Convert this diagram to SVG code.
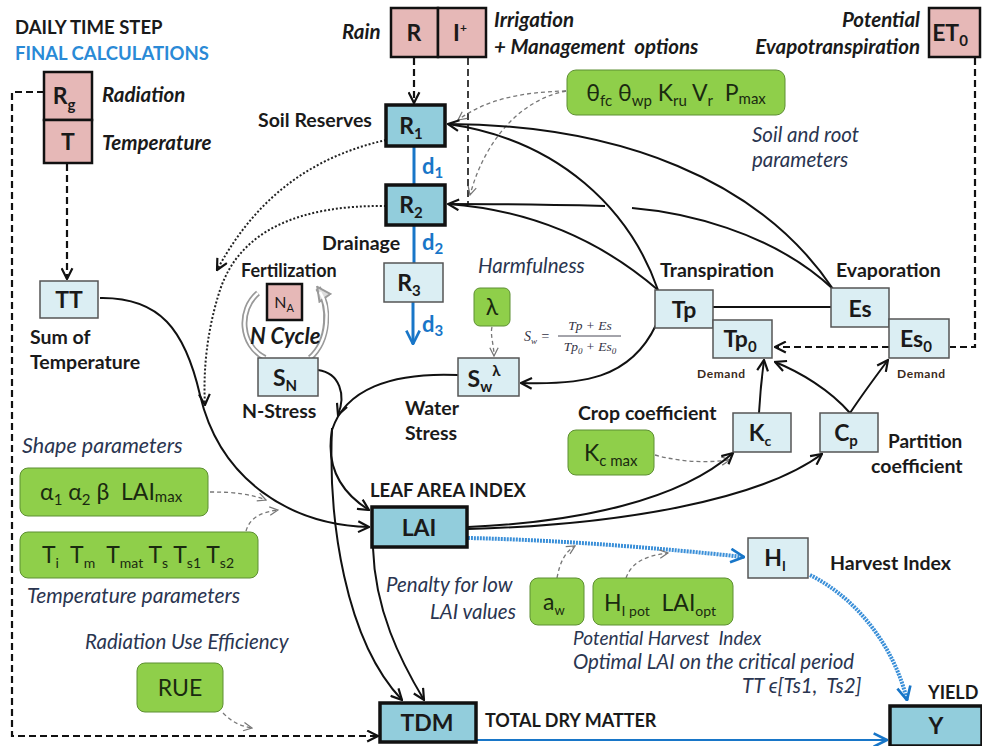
<svg xmlns="http://www.w3.org/2000/svg" width="982" height="746" viewBox="0 0 982 746">
<defs>
<style>
text{font-family:Lato,"Open Sans","Liberation Sans",sans-serif;fill:#1a1a1a;white-space:pre}
.b{font-weight:bold}
.it{font-style:italic;font-weight:bold}
.pi{font-style:italic;fill:#2a3550}
.nl{font-weight:bold;font-size:23px;text-anchor:middle}
.gl{font-size:23px;fill:#1a2a10}
.blue{fill:#1876c8;font-weight:bold}
.pink{fill:#e6b8b7;stroke:#111;stroke-width:2.5}
.dark{fill:#92cddc;stroke:#111;stroke-width:3.5}
.light{fill:#dbeef3;stroke:#555;stroke-width:1.5}
.green{fill:#8fcf4a;stroke:#5d8f32;stroke-width:1}
.c{fill:none;stroke:#111;stroke-width:2}
.dash{fill:none;stroke:#111;stroke-width:2.2;stroke-dasharray:7 4}
.dot{fill:none;stroke:#222;stroke-width:2;stroke-dasharray:2 2}
.gd{fill:none;stroke:#777;stroke-width:1.3;stroke-dasharray:4 3}
.bl{fill:none;stroke:#1876c8;stroke-width:3}
.blh{fill:none;stroke:#3a8fd8;stroke-width:4;stroke-dasharray:2 1}
.ncy{fill:none;stroke:#999;stroke-width:6}
.ncw{fill:none;stroke:#fff;stroke-width:2.5}
.fm{font-family:"Liberation Serif",serif;font-style:italic;fill:#334}
.dm{font-weight:bold;font-size:12px;letter-spacing:0.6px;fill:#3a2a1a}
</style>
<marker id="ah" viewBox="0 0 12 12" refX="11" refY="6" markerWidth="13" markerHeight="13" markerUnits="userSpaceOnUse" orient="auto"><path d="M1,1 L11,6 L1,11" fill="none" stroke="#111" stroke-width="2"/></marker>
<marker id="ab" viewBox="0 0 12 12" refX="11" refY="6" markerWidth="16" markerHeight="16" markerUnits="userSpaceOnUse" orient="auto"><path d="M1,1 L11,6 L1,11" fill="none" stroke="#1876c8" stroke-width="2"/></marker>
<marker id="ag" viewBox="0 0 12 12" refX="11" refY="6" markerWidth="10" markerHeight="10" markerUnits="userSpaceOnUse" orient="auto"><path d="M1,1 L11,6 L1,11" fill="none" stroke="#777" stroke-width="1.5"/></marker>
<marker id="agr" viewBox="0 0 12 12" refX="10" refY="6" markerWidth="16" markerHeight="16" markerUnits="userSpaceOnUse" orient="auto"><path d="M1,1 L11,6 L1,11 Z" fill="#ddd" stroke="#999" stroke-width="1.5"/></marker>
</defs>
<rect width="982" height="746" fill="#fff"/>

<text x="15" y="34" class="b" font-size="18.5">DAILY TIME STEP</text>
<text x="15" y="60" class="b" font-size="18.5" style="fill:#2a8ad6">FINAL CALCULATIONS</text>

<g id="connectors">
<path class="bl" d="M414,147 V185"/>
<path class="bl" d="M414,226 V263"/>
<path class="bl" d="M413,302 V344" marker-end="url(#ab)"/>
<path class="dash" d="M44,92 H12 V736 H378" marker-end="url(#ah)"/>
<path class="dash" d="M67,164 V279" marker-end="url(#ah)"/>
<path class="dash" d="M414,58 V103" marker-end="url(#ah)"/>
<path class="dash" d="M468,58 V204" style="stroke-width:1.6"/>
<path class="dash" d="M975,58 V347 H950"/>
<path class="dash" d="M889,347 H775" marker-end="url(#ah)"/>
<path class="gd" d="M566,91 C520,92 485,100 458,120" marker-end="url(#ag)"/>
<path class="gd" d="M566,91 C520,100 485,140 470,195" marker-end="url(#ag)"/>
<path class="c" d="M658,290 C630,210 560,140 448,124" marker-end="url(#ah)"/>
<path class="c" d="M658,290 C600,240 530,210 448,204" marker-end="url(#ah)"/>
<path class="c" d="M833,289 C760,180 620,125 448,124"/>
<path class="c" d="M833,289 C770,230 680,212 632,208"/>
<path class="c" d="M605,206 C560,205 500,204 448,204"/>
<path class="c" d="M713,307 H831"/>
<path class="c" d="M656,325 C630,380 580,385 521,383" marker-end="url(#ah)"/>
<path class="c" d="M759,413 C760,395 762,375 764,360" marker-end="url(#ah)"/>
<path class="c" d="M850,413 C830,390 800,372 775,362" marker-end="url(#ah)"/>
<path class="c" d="M850,413 C862,395 876,376 888,360" marker-end="url(#ah)"/>
<path class="gd" d="M655,455 C680,462 705,463 730,460" marker-end="url(#ag)"/>
<path class="c" d="M468,527 C580,522 680,500 733,453" marker-end="url(#ah)"/>
<path class="c" d="M468,529 C620,525 760,500 822,454" marker-end="url(#ah)"/>
<path class="blh" d="M468,538 C560,540 660,548 744,557" marker-end="url(#ab)"/>
<path class="gd" d="M557,578 C560,562 565,552 575,546" marker-end="url(#ag)"/>
<path class="gd" d="M626,578 C632,562 645,556 668,553" marker-end="url(#ag)"/>
<path class="blh" d="M810,575 C860,600 895,650 907,700" marker-end="url(#ab)"/>
<path class="bl" d="M477,740 H887" style="stroke-width:2" marker-end="url(#ab)"/>
<path class="gd" d="M492,327 C490,335 494,345 494,356" marker-end="url(#ag)"/>
<path class="dot" d="M386,140 C320,155 260,190 217,270" marker-end="url(#ah)"/>
<path class="dot" d="M386,206 C300,205 240,230 220,290 C207,330 203,370 205,405" marker-end="url(#ah)"/>
<path class="c" d="M100,298 C160,297 185,330 200,395 C220,480 290,525 369,527" marker-end="url(#ah)"/>
<path class="c" d="M458,375 C390,372 345,390 332,430 C325,470 345,495 369,510" marker-end="url(#ah)"/>
<path class="c" d="M318,370 C340,373 346,395 338,415" marker-end="url(#ah)"/>
<path class="c" d="M332,428 C328,520 345,640 402,700" marker-end="url(#ah)"/>
<path class="c" d="M373,548 C375,610 400,660 424,700" marker-end="url(#ah)"/>
<path class="gd" d="M210,492 C235,492 250,494 266,500" marker-end="url(#ag)"/>
<path class="gd" d="M246,531 C250,517 262,512 278,510" marker-end="url(#ag)"/>
<path class="gd" d="M223,713 C232,722 240,726 252,728" marker-end="url(#ag)"/>
<path class="ncy" d="M258,293 C238,310 240,345 265,358"/>
<path class="ncw" d="M258,293 C238,310 240,345 265,358"/>
<path class="ncy" d="M310,358 C330,340 330,305 318,288" marker-end="url(#agr)"/>
<path class="ncw" d="M310,358 C330,340 330,307 320,292"/>
</g>

<g id="RgT">
<rect x="44" y="72" width="48" height="48" class="pink"/>
<rect x="44" y="120" width="48" height="43" class="pink"/>
<text x="64" y="104" class="nl">R<tspan font-size="15" dy="6">g</tspan></text>
<text x="68" y="150" class="nl">T</text>
<text x="102" y="102" class="it" font-size="20.5">Radiation</text>
<text x="102" y="150" class="it" font-size="20.5">Temperature</text>
</g>

<g id="RI">
<rect x="391" y="8" width="47" height="49" class="pink"/>
<rect x="438" y="8" width="48" height="49" class="pink"/>
<text x="414" y="41" class="nl">R</text>
<text x="460" y="41" class="nl">I<tspan font-size="12" dy="-9">+</tspan></text>
<text x="342" y="39" class="it" font-size="20.5">Rain</text>
<text x="494" y="27" class="it" font-size="20.5">Irrigation</text>
<text x="494" y="54" class="it" font-size="20.5">+ Management  options</text>
</g>

<g id="ET0">
<rect x="929" y="8" width="51" height="49" class="pink"/>
<text x="950" y="41" class="nl">ET<tspan font-size="15" dy="5">0</tspan></text>
<text x="920" y="27" class="it" font-size="20.5" text-anchor="end">Potential</text>
<text x="920" y="54" class="it" font-size="20.5" text-anchor="end">Evapotranspiration</text>
</g>

<g id="R1">
<rect x="386" y="105" width="59" height="41" class="dark"/>
<text x="411" y="134" class="nl">R<tspan font-size="15" dy="5">1</tspan></text>
<text x="258" y="127" class="b" font-size="19.5">Soil Reserves</text>
</g>
<text x="422" y="174" class="blue" font-size="22">d<tspan font-size="15" dy="4">1</tspan></text>
<g id="R2">
<rect x="386" y="185" width="59" height="40" class="dark"/>
<text x="411" y="213" class="nl">R<tspan font-size="15" dy="5">2</tspan></text>
</g>
<text x="322" y="250" class="b" font-size="19.5">Drainage</text>
<text x="422" y="250" class="blue" font-size="22">d<tspan font-size="15" dy="4">2</tspan></text>
<g id="R3">
<rect x="384" y="263" width="59" height="39" class="light"/>
<text x="409" y="291" class="nl">R<tspan font-size="15" dy="5">3</tspan></text>
</g>
<text x="422" y="332" class="blue" font-size="22">d<tspan font-size="15" dy="4">3</tspan></text>

<g id="soilparams">
<rect x="567" y="70" width="218" height="45" rx="9" class="green"/>
<text x="676" y="101" class="gl" text-anchor="middle">θ<tspan font-size="15" dy="5">fc</tspan><tspan dy="-5"> θ</tspan><tspan font-size="15" dy="5">wp</tspan><tspan dy="-5"> K</tspan><tspan font-size="15" dy="5">ru</tspan><tspan dy="-5"> V</tspan><tspan font-size="15" dy="5">r</tspan><tspan dy="-5">  P</tspan><tspan font-size="15" dy="3">max</tspan></text>
<text x="752" y="142" class="pi" font-size="20.5">Soil and root</text>
<text x="752" y="167" class="pi" font-size="20.5">parameters</text>
</g>

<g id="TT">
<rect x="40" y="281" width="58" height="37" class="light"/>
<text x="69" y="308" class="nl">TT</text>
<text x="30" y="344" class="b" font-size="19.5">Sum of</text>
<text x="30" y="369" class="b" font-size="19.5">Temperature</text>
</g>

<g id="NA">
<text x="241" y="277" class="b" font-size="18">Fertilization</text>
<rect x="267" y="284" width="35" height="36" class="pink"/>
<text x="284" y="308" font-size="16" text-anchor="middle">N<tspan font-size="11" dy="4">A</tspan></text>
<text x="250" y="344" class="it" font-size="22">N Cycle</text>
</g>
<g id="SN">
<rect x="258" y="358" width="60" height="38" class="light"/>
<text x="285" y="386" class="nl">S<tspan font-size="15" dy="5">N</tspan></text>
<text x="242" y="418" class="b" font-size="19.5">N-Stress</text>
</g>

<g id="lambda">
<text x="478" y="273" class="pi" font-size="20.5">Harmfulness</text>
<rect x="474" y="288" width="36" height="38" rx="6" class="green"/>
<text x="492" y="315" class="gl" font-size="22" text-anchor="middle">λ</text>
</g>
<g id="formula">
<text x="524" y="341" class="fm" font-size="14">S<tspan font-size="9" dy="3">w</tspan><tspan dy="-3"> =</tspan></text>
<text x="590" y="330" class="fm" font-size="13.5" text-anchor="middle">Tp + Es</text>
<line x1="558" y1="336" x2="621" y2="336" stroke="#334" stroke-width="0.9"/>
<text x="590" y="351" class="fm" font-size="13.5" text-anchor="middle">Tp<tspan font-size="9" dy="3">0</tspan><tspan dy="-3"> + Es</tspan><tspan font-size="9" dy="3">0</tspan></text>
</g>
<g id="Sw">
<rect x="458" y="358" width="61" height="38" class="light"/>
<text x="484" y="387" class="nl">S<tspan font-size="15" dy="5">w</tspan><tspan font-size="15" dy="-16">λ</tspan></text>
<text x="405" y="415" class="b" font-size="19.5">Water</text>
<text x="405" y="440" class="b" font-size="19.5">Stress</text>
</g>

<g id="Tp">
<text x="660" y="277" class="b" font-size="19.5">Transpiration</text>
<rect x="655" y="290" width="58" height="38" class="light"/>
<text x="684" y="318" class="nl">Tp</text>
</g>
<g id="Tp0">
<rect x="713" y="320" width="59" height="38" class="light"/>
<text x="740" y="347" class="nl">Tp<tspan font-size="15" dy="5">0</tspan></text>
<text x="697" y="378" class="dm">Demand</text>
</g>
<g id="Es">
<text x="836" y="277" class="b" font-size="19.5">Evaporation</text>
<rect x="831" y="288" width="58" height="39" class="light"/>
<text x="860" y="317" class="nl">Es</text>
</g>
<g id="Es0">
<rect x="889" y="319" width="60" height="39" class="light"/>
<text x="916" y="347" class="nl">Es<tspan font-size="15" dy="5">0</tspan></text>
<text x="897" y="378" class="dm">Demand</text>
</g>

<g id="Kcmax">
<text x="578" y="420" class="b" font-size="19.5">Crop coefficient</text>
<rect x="568" y="430" width="86" height="45" rx="8" class="green"/>
<text x="584" y="461" class="gl">K<tspan font-size="15" dy="5">c max</tspan></text>
</g>
<g id="Kc">
<rect x="733" y="413" width="58" height="39" class="light"/>
<text x="760" y="441" class="nl">K<tspan font-size="14" dy="5">c</tspan></text>
</g>
<g id="Cp">
<rect x="820" y="413" width="58" height="39" class="light"/>
<text x="846" y="441" class="nl">C<tspan font-size="15" dy="5">p</tspan></text>
<text x="888" y="448" class="b" font-size="19">Partition</text>
<text x="871" y="473" class="b" font-size="19.5">coefficient</text>
</g>

<g id="shape">
<text x="22" y="453" class="pi" font-size="21.5">Shape parameters</text>
<rect x="20" y="468" width="188" height="48" rx="8" class="green"/>
<text x="40" y="500" class="gl">α<tspan font-size="15" dy="5">1</tspan><tspan dy="-5"> α</tspan><tspan font-size="15" dy="5">2</tspan><tspan dy="-5"> β  LAI</tspan><tspan font-size="15" dy="2">max</tspan></text>
</g>
<g id="tparams">
<rect x="20" y="532" width="238" height="46" rx="8" class="green"/>
<text x="42" y="563" class="gl">T<tspan font-size="14" dy="5">i</tspan><tspan dy="-5">  T</tspan><tspan font-size="14" dy="5">m</tspan><tspan dy="-5">  T</tspan><tspan font-size="14" dy="5">mat</tspan><tspan dy="-5"> T</tspan><tspan font-size="14" dy="5">s</tspan><tspan dy="-5"> T</tspan><tspan font-size="14" dy="5">s1</tspan><tspan dy="-5"> T</tspan><tspan font-size="14" dy="5">s2</tspan></text>
<text x="27" y="603" class="pi" font-size="21">Temperature parameters</text>
</g>

<g id="LAI">
<text x="370" y="497" class="b" font-size="18.5">LEAF AREA INDEX</text>
<rect x="372" y="507" width="95" height="40" class="dark"/>
<text x="419" y="536" class="nl">LAI</text>
<text x="386" y="592" class="pi" font-size="20.5">Penalty for low</text>
<text x="430" y="619" class="pi" font-size="20.5">LAI values</text>
</g>
<g id="aw">
<rect x="530" y="578" width="54" height="47" rx="8" class="green"/>
<text x="543" y="610" class="gl">a<tspan font-size="13" dy="5">w</tspan></text>
</g>
<g id="HIpot">
<rect x="593" y="578" width="140" height="47" rx="8" class="green"/>
<text x="604" y="611" class="gl">H<tspan font-size="14" dy="5">I pot</tspan><tspan dy="-5">  LAI</tspan><tspan font-size="14" dy="5">opt</tspan></text>
<text x="573" y="645" class="pi" font-size="19">Potential Harvest  Index</text>
<text x="573" y="669" class="pi" font-size="20.5">Optimal LAI on the critical period</text>
<text x="742" y="693" class="pi" font-size="20.5">TT ϵ[Ts1,  Ts2]</text>
</g>
<g id="HI">
<rect x="748" y="538" width="60" height="40" class="light"/>
<text x="775" y="566" class="nl">H<tspan font-size="13" dy="5">I</tspan></text>
<text x="830" y="570" class="b" font-size="19.5">Harvest Index</text>
</g>
<g id="RUE">
<text x="85" y="649" class="pi" font-size="20.5">Radiation Use Efficiency</text>
<rect x="137" y="663" width="86" height="49" rx="8" class="green"/>
<text x="180" y="696" class="gl" text-anchor="middle">RUE</text>
</g>
<g id="TDM">
<rect x="380" y="703" width="96" height="39" class="dark"/>
<text x="427" y="731" class="nl">TDM</text>
<text x="485" y="727" class="b" font-size="18">TOTAL DRY MATTER</text>
</g>
<g id="Y">
<text x="928" y="699" class="b" font-size="18">YIELD</text>
<rect x="890" y="706" width="92" height="40" class="dark"/>
<text x="936" y="734" class="nl">Y</text>
</g>
</svg>
